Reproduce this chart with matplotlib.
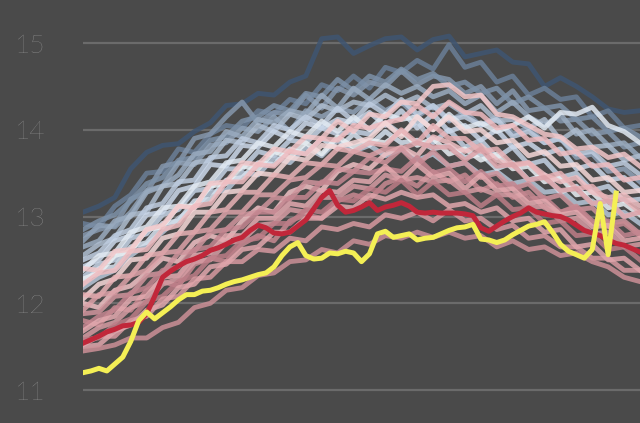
import numpy as np
import matplotlib
matplotlib.use("Agg")
import matplotlib.pyplot as plt

# ---- data -------------------------------------------------------------
yticks = [11, 12, 13, 14, 15]
ytick_labels = ["11", "12", "13", "14", "15"]

x_fine = list(range(0, 71))          # step used by highlighted years
x_coarse = list(range(0, 71, 2))     # step used by background years

yellow_vals = [11.20, 11.22, 11.25, 11.22, 11.30, 11.38, 11.56, 11.80, 11.90, 11.82,
               11.89, 11.96, 12.04, 12.10, 12.10, 12.14, 12.15, 12.18, 12.22, 12.25,
               12.27, 12.30, 12.33, 12.35, 12.42, 12.55, 12.65, 12.70, 12.55, 12.51,
               12.52, 12.58, 12.57, 12.60, 12.58, 12.48, 12.57, 12.80, 12.83, 12.76,
               12.78, 12.80, 12.73, 12.75, 12.76, 12.80, 12.84, 12.87, 12.88, 12.91,
               12.74, 12.73, 12.70, 12.73, 12.79, 12.84, 12.89, 12.91, 12.94, 12.82,
               12.68, 12.60, 12.56, 12.52, 12.62, 13.15, 12.56, 13.27]

red_vals = [11.54, 11.58, 11.62, 11.67, 11.70, 11.74, 11.75, 11.78, 11.88, 12.08,
            12.30, 12.37, 12.43, 12.48, 12.51, 12.55, 12.61, 12.64, 12.68, 12.73,
            12.76, 12.84, 12.90, 12.87, 12.81, 12.80, 12.82, 12.89, 12.96, 13.09,
            13.22, 13.30, 13.13, 13.05, 13.07, 13.11, 13.16, 13.07, 13.11, 13.13,
            13.16, 13.12, 13.05, 13.04, 13.05, 13.04, 13.04, 13.04, 13.03, 13.01,
            12.87, 12.83, 12.89, 12.95, 13.00, 13.04, 13.10, 13.05, 13.03, 13.01,
            13.00, 12.96, 12.90, 12.84, 12.81, 12.78, 12.73, 12.69, 12.67, 12.63, 12.59]

blue_1 = [13.05, 13.12, 13.22, 13.55, 13.74, 13.82, 13.84, 13.98, 14.08, 14.28, 14.30, 14.42,
          14.40, 14.55, 14.62, 15.05, 15.07, 14.88, 14.97, 15.05, 15.07, 14.92, 15.04, 15.08,
          14.84, 14.88, 14.92, 14.78, 14.76, 14.50, 14.60, 14.50, 14.38, 14.24, 14.20, 14.22]
blue_2 = [12.92, 12.88, 13.12, 13.25, 13.50, 13.52, 13.78, 13.74, 13.95, 14.05, 14.02, 14.22,
          14.18, 14.35, 14.30, 14.52, 14.45, 14.62, 14.48, 14.72, 14.66, 14.80, 14.70, 14.98,
          14.72, 14.78, 14.55, 14.62, 14.40, 14.48, 14.35, 14.38, 14.15, 14.22, 14.02, 14.05]
blue_3 = [12.78, 12.85, 12.90, 13.20, 13.28, 13.58, 13.62, 13.90, 13.95, 14.15, 14.32, 14.08,
          14.20, 14.18, 14.40, 14.25, 14.48, 14.40, 14.55, 14.50, 14.68, 14.52, 14.62, 14.58,
          14.42, 14.50, 14.30, 14.45, 14.22, 14.25, 14.10, 14.12, 13.95, 13.98, 13.80, 13.85]
blue_4 = [12.85, 12.95, 13.02, 13.18, 13.38, 13.45, 13.65, 13.68, 13.88, 13.92, 14.10, 14.15,
          14.28, 14.22, 14.42, 14.38, 14.58, 14.45, 14.62, 14.55, 14.70, 14.58, 14.65, 14.50,
          14.55, 14.42, 14.48, 14.30, 14.38, 14.25, 14.28, 14.12, 14.15, 13.98, 14.02, 13.92]
blue_5 = [12.72, 12.90, 12.88, 13.05, 13.30, 13.35, 13.62, 13.60, 13.82, 13.85, 14.02, 13.98,
          14.15, 13.98, 14.22, 14.15, 14.25, 14.20, 14.35, 14.22, 14.32, 14.15, 14.28, 14.10,
          14.20, 14.05, 14.15, 13.95, 14.02, 13.85, 13.90, 13.68, 13.72, 13.52, 13.55, 13.40]
blue_6 = [12.65, 12.72, 12.95, 13.00, 13.28, 13.35, 13.48, 13.72, 13.75, 13.98, 13.92, 14.12,
          14.08, 14.22, 14.18, 14.40, 14.25, 14.48, 14.35, 14.52, 14.42, 14.50, 14.38, 14.45,
          14.30, 14.40, 14.20, 14.32, 14.15, 14.05, 14.18, 13.95, 14.00, 13.82, 13.85, 13.68]
blue_7 = [12.55, 12.68, 12.75, 13.02, 13.05, 13.35, 13.38, 13.62, 13.65, 13.88, 13.85, 14.05,
          13.98, 14.18, 14.12, 14.28, 14.22, 14.32, 14.28, 14.40, 14.30, 14.38, 14.25, 14.30,
          14.18, 14.28, 14.10, 14.12, 14.02, 14.12, 13.88, 14.00, 13.80, 13.82, 13.65, 13.70]
blue_8 = [12.50, 12.58, 12.78, 12.85, 13.10, 13.15, 13.40, 13.42, 13.68, 13.70, 13.90, 13.85,
          14.05, 14.00, 14.15, 14.05, 14.25, 14.10, 14.30, 14.18, 14.35, 14.18, 14.28, 14.12,
          14.15, 14.05, 14.12, 13.92, 13.98, 13.85, 13.90, 13.72, 13.75, 13.58, 13.62, 13.48]
blue_9 = [12.30, 12.45, 12.50, 12.75, 12.80, 13.02, 13.08, 13.30, 13.32, 13.55, 13.55, 13.75,
          13.70, 13.88, 13.85, 14.02, 13.95, 13.98, 13.95, 14.08, 13.95, 14.10, 13.85, 14.00,
          13.80, 13.88, 13.68, 13.80, 13.60, 13.65, 13.45, 13.50, 13.30, 13.35, 13.18, 13.20]
blue_10 = [12.42, 12.50, 12.72, 12.78, 13.02, 13.05, 13.30, 13.35, 13.60, 13.58, 13.82, 13.80,
           13.98, 13.90, 14.08, 14.02, 14.12, 14.08, 14.20, 14.05, 14.22, 14.02, 14.18, 13.98,
           14.05, 13.88, 14.00, 13.80, 13.85, 13.72, 13.78, 13.55, 13.60, 13.42, 13.45, 13.30]
blue_11 = [12.18, 12.30, 12.38, 12.55, 12.68, 12.82, 12.98, 13.10, 13.28, 13.30, 13.50, 13.48,
           13.68, 13.62, 13.80, 13.70, 13.88, 13.75, 13.82, 13.70, 13.78, 13.65, 13.72, 13.58,
           13.62, 13.48, 13.52, 13.38, 13.42, 13.28, 13.30, 13.15, 13.18, 13.02, 13.05, 12.92]
blue_12 = [12.22, 12.40, 12.42, 12.65, 12.70, 12.92, 12.95, 13.18, 13.20, 13.42, 13.45, 13.62,
           13.60, 13.78, 13.72, 13.90, 13.78, 13.95, 13.82, 13.98, 13.85, 13.88, 13.78, 13.82,
           13.68, 13.72, 13.55, 13.62, 13.42, 13.48, 13.28, 13.35, 13.15, 13.18, 13.00, 13.05]
blue_13 = [12.38, 12.55, 12.58, 12.82, 12.88, 13.10, 13.12, 13.35, 13.40, 13.62, 13.65, 13.85,
           13.80, 13.98, 13.92, 14.10, 13.98, 14.15, 14.00, 14.18, 14.12, 14.15, 14.00, 14.18,
           14.02, 14.08, 13.98, 14.05, 14.15, 14.02, 14.20, 14.18, 14.26, 14.05, 13.98, 13.85]
blue_14 = [12.28, 12.35, 12.55, 12.60, 12.85, 12.88, 13.12, 13.12, 13.35, 13.38, 13.58, 13.55,
           13.75, 13.68, 13.85, 13.72, 13.92, 13.80, 13.88, 13.85, 13.98, 13.82, 13.90, 13.72,
           13.78, 13.65, 13.72, 13.55, 13.58, 13.40, 13.45, 13.25, 13.28, 13.10, 13.15, 13.02]

pink_1 = [12.40, 12.38, 12.60, 12.62, 12.85, 12.90, 13.12, 13.10, 13.38, 13.40, 13.62, 13.60,
          13.78, 13.75, 13.92, 13.90, 14.10, 13.98, 14.18, 14.15, 14.32, 14.30, 14.50, 14.52,
          14.38, 14.40, 14.18, 14.15, 14.05, 13.95, 13.92, 13.78, 13.80, 13.68, 13.72, 13.58]
pink_2 = [12.22, 12.35, 12.38, 12.60, 12.62, 12.85, 12.90, 13.12, 13.15, 13.40, 13.40, 13.60,
          13.58, 13.75, 13.72, 13.90, 13.88, 14.05, 14.02, 14.08, 14.12, 14.28, 14.15, 14.32,
          14.20, 14.18, 14.02, 14.05, 13.88, 13.90, 13.72, 13.75, 13.58, 13.60, 13.42, 13.45]
pink_3 = [12.05, 12.22, 12.28, 12.50, 12.52, 12.75, 12.80, 13.05, 13.05, 13.28, 13.30, 13.50,
          13.48, 13.68, 13.65, 13.82, 13.80, 13.85, 13.90, 14.08, 13.92, 14.15, 14.00, 14.15,
          13.98, 14.00, 13.85, 13.88, 13.70, 13.75, 13.58, 13.60, 13.42, 13.45, 13.28, 13.30]
pink_4 = [12.00, 11.95, 12.15, 12.20, 12.35, 12.52, 12.48, 12.70, 12.78, 12.72, 12.95, 13.10,
          13.05, 13.28, 13.35, 13.30, 13.52, 13.60, 13.55, 13.72, 13.80, 13.70, 13.92, 13.85,
          13.75, 13.82, 13.65, 13.58, 13.62, 13.48, 13.40, 13.45, 13.28, 13.22, 13.25, 13.12]
pink_5 = [12.10, 12.08, 12.30, 12.32, 12.55, 12.58, 12.80, 12.82, 13.05, 13.08, 13.28, 13.28,
          13.48, 13.45, 13.62, 13.60, 13.78, 13.75, 13.85, 13.82, 14.00, 13.85, 14.05, 13.90,
          13.90, 13.75, 13.78, 13.60, 13.62, 13.45, 13.50, 13.32, 13.35, 13.18, 13.20, 13.05]
pink_6 = [11.92, 12.10, 12.12, 12.32, 12.38, 12.58, 12.60, 12.82, 12.85, 13.05, 13.05, 13.25,
          13.25, 13.42, 13.45, 13.60, 13.58, 13.75, 13.70, 13.78, 13.78, 13.85, 13.80, 13.80,
          13.65, 13.78, 13.58, 13.60, 13.42, 13.45, 13.30, 13.32, 13.15, 13.18, 13.00, 13.05]
pink_7 = [11.88, 11.90, 12.08, 12.10, 12.32, 12.35, 12.58, 12.60, 12.82, 12.85, 13.02, 13.05,
          13.22, 13.20, 13.40, 13.38, 13.55, 13.52, 13.68, 13.62, 13.78, 13.60, 13.75, 13.58,
          13.62, 13.45, 13.50, 13.32, 13.38, 13.20, 13.25, 13.08, 13.10, 12.92, 12.95, 12.80]
pink_8 = [11.80, 11.75, 11.95, 11.92, 12.15, 12.25, 12.20, 12.45, 12.52, 12.48, 12.68, 12.78,
          12.72, 12.95, 13.02, 12.98, 13.18, 13.25, 13.20, 13.38, 13.45, 13.35, 13.52, 13.40,
          13.48, 13.30, 13.38, 13.22, 13.28, 13.10, 13.05, 13.12, 12.95, 12.88, 12.92, 12.78]
pink_9 = [11.72, 11.85, 11.92, 12.12, 12.18, 12.38, 12.42, 12.62, 12.65, 12.85, 12.88, 13.05,
          13.05, 13.22, 13.22, 13.40, 13.38, 13.52, 13.50, 13.55, 13.52, 13.68, 13.50, 13.55,
          13.40, 13.52, 13.35, 13.38, 13.20, 13.22, 13.05, 13.10, 12.92, 12.95, 12.78, 12.82]
pink_10 = [11.68, 11.80, 11.85, 12.05, 12.08, 12.30, 12.32, 12.55, 12.58, 12.78, 12.78, 12.98,
           12.98, 13.15, 13.12, 13.30, 13.28, 13.42, 13.40, 13.58, 13.42, 13.60, 13.45, 13.50,
           13.32, 13.48, 13.30, 13.32, 13.15, 13.18, 13.02, 13.05, 12.88, 12.90, 12.72, 12.75]
pink_11 = [11.60, 11.72, 11.78, 11.95, 12.02, 12.22, 12.28, 12.48, 12.50, 12.70, 12.72, 12.90,
           12.92, 13.08, 13.05, 13.22, 13.22, 13.35, 13.32, 13.48, 13.42, 13.45, 13.40, 13.42,
           13.28, 13.32, 13.25, 13.25, 13.10, 13.12, 12.95, 12.98, 12.80, 12.82, 12.65, 12.68]
pink_12 = [11.58, 11.60, 11.75, 11.82, 12.02, 12.08, 12.25, 12.32, 12.52, 12.55, 12.72, 12.75,
           12.92, 12.92, 13.08, 13.05, 13.20, 13.18, 13.32, 13.28, 13.42, 13.25, 13.40, 13.25,
           13.28, 13.12, 13.25, 13.08, 13.10, 12.92, 12.95, 12.78, 12.80, 12.62, 12.65, 12.50]
pink_13 = [11.52, 11.62, 11.62, 11.80, 11.85, 12.05, 12.08, 12.28, 12.30, 12.48, 12.48, 12.62,
           12.60, 12.75, 12.72, 12.88, 12.85, 12.92, 12.88, 13.02, 12.98, 13.05, 12.95, 13.08,
           12.95, 12.98, 12.85, 12.90, 12.75, 12.78, 12.65, 12.65, 12.52, 12.52, 12.38, 12.38]
pink_14 = [11.50, 11.52, 11.68, 11.75, 11.92, 11.98, 12.18, 12.22, 12.42, 12.45, 12.62, 12.65,
           12.82, 12.82, 12.98, 12.98, 13.12, 13.10, 13.25, 13.20, 13.28, 13.22, 13.25, 13.12,
           13.15, 13.05, 13.10, 12.95, 12.98, 12.82, 12.85, 12.65, 12.68, 12.50, 12.52, 12.38]
pink_15 = [11.45, 11.48, 11.52, 11.60, 11.60, 11.72, 11.78, 11.95, 12.00, 12.15, 12.18, 12.32,
           12.35, 12.48, 12.50, 12.62, 12.58, 12.72, 12.68, 12.78, 12.75, 12.82, 12.76, 12.82,
           12.75, 12.78, 12.65, 12.72, 12.62, 12.65, 12.55, 12.58, 12.48, 12.42, 12.30, 12.25]

blue_lines = [blue_1, blue_2, blue_3, blue_4, blue_5, blue_6, blue_7, blue_8,
              blue_9, blue_10, blue_11, blue_12, blue_13, blue_14]
pink_lines = [pink_1, pink_2, pink_3, pink_4, pink_5, pink_6, pink_7, pink_8,
              pink_9, pink_10, pink_11, pink_12, pink_13, pink_14, pink_15]

# ---- styles -----------------------------------------------------------
BG = "#4a4a4a"
GRID = "#6b6b6b"
LABEL = "#a9a9a9"
blue_colors = ["#3f5571", "#6a7f97", "#8597ad", "#7d91a8", "#90a2b7", "#9aabbf",
               "#aebdcf", "#bfcde0", "#c4d2e4", "#cbd8ea", "#b7c6d8", "#d6e1ee",
               "#e2eaf3", "#eaf0f4"]
pink_colors = ["#f3c8ca", "#efbcc0", "#f6d8d8", "#f0c0c4", "#e8b2b6", "#dca2a8",
               "#d0959d", "#c98a92", "#c48690", "#e4aab0", "#d69ca3", "#bd7d87",
               "#d79aa1", "#e0a6ac", "#cc9097"]

fig = plt.figure(figsize=(6.4, 4.23), dpi=100, facecolor=BG)
ax = fig.add_axes([83 / 640, 0, 557 / 640, 1])
ax.set_facecolor(BG)

for vals, c in zip(blue_lines, blue_colors):
    ax.plot(x_coarse, vals, color=c, lw=3.5, alpha=0.85, solid_joinstyle="round", zorder=2)
for vals, c in zip(pink_lines, pink_colors):
    ax.plot(x_coarse, vals, color=c, lw=3.5, alpha=0.85, solid_joinstyle="round", zorder=3)

ax.plot(x_fine, red_vals, color="#c1273a", lw=3.6, solid_joinstyle="round", zorder=5)
ax.plot(x_fine[:len(yellow_vals)], yellow_vals, color="#f4ef55", lw=3.6,
        solid_joinstyle="round", zorder=6)

ax.set_xlim(0, 70)
ax.set_ylim(10.62, 15.496)
ax.set_yticks(yticks)
ax.set_yticklabels(ytick_labels)
ax.set_xticks([])
ax.grid(axis="y", color=GRID, lw=1.6, zorder=0)
ax.set_axisbelow(True)
ax.tick_params(axis="y", length=0, pad=27, labelsize=19, labelcolor=LABEL)
for lab in ax.get_yticklabels():
    lab.set_fontfamily(["Lato", "DejaVu Sans"])
    lab.set_fontweight("light")
for s in ax.spines.values():
    s.set_visible(False)

fig.savefig("out.png", dpi=100, facecolor=BG)
